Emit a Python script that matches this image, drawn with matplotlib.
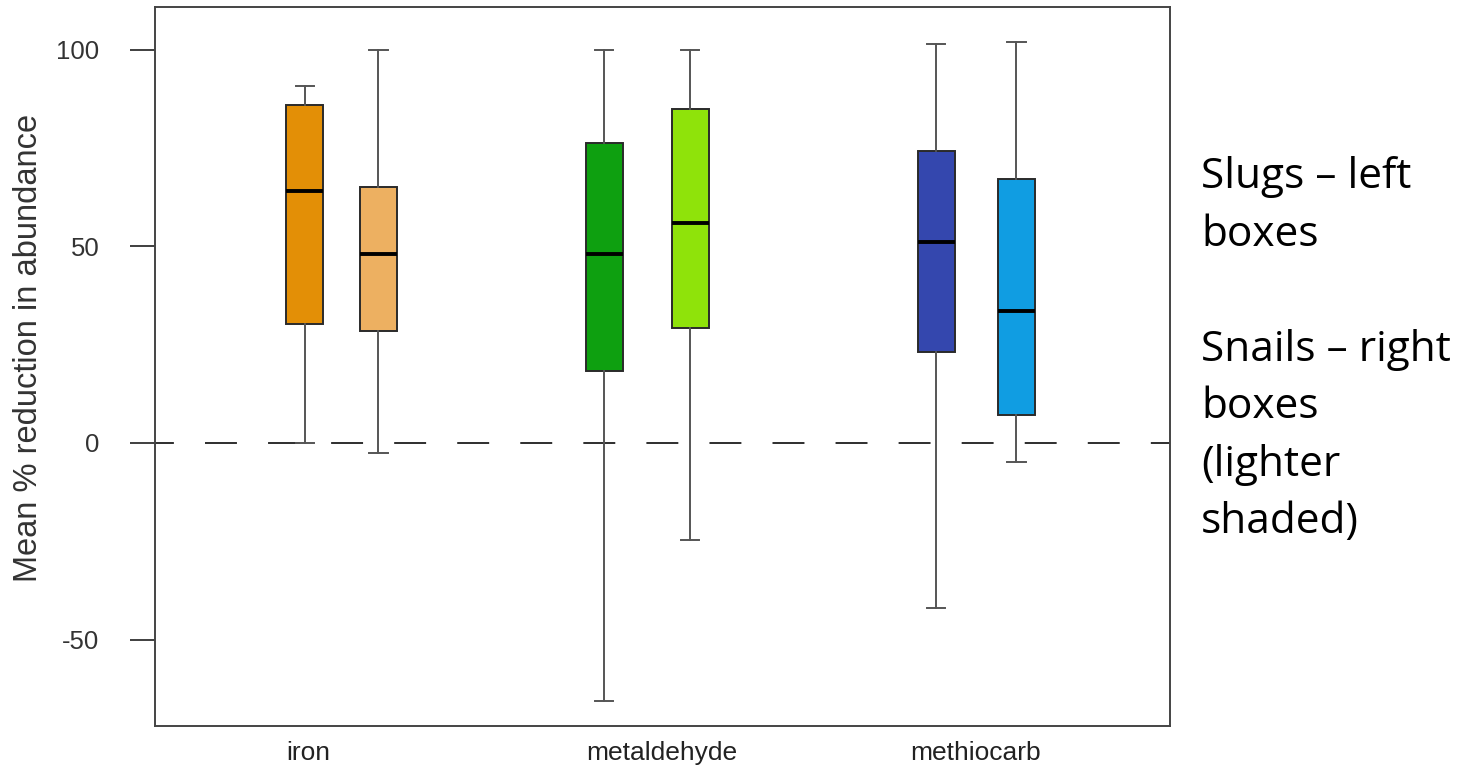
import matplotlib
matplotlib.use("Agg")
import matplotlib.pyplot as plt

# boxes in drawing order: iron slugs, iron snails, metaldehyde slugs,
# metaldehyde snails, methiocarb slugs, methiocarb snails
groups = ["iron", "metaldehyde", "methiocarb"]
whisker_low = [0.0, -2.5, -65.6, -24.7, -41.9, -4.8]
q1 = [30.3, 28.5, 18.3, 29.3, 23.2, 7.1]
median = [64.1, 48.0, 48.0, 56.0, 51.1, 33.6]
q3 = [86.0, 65.1, 76.3, 85.0, 74.3, 67.2]
whisker_high = [90.9, 100.0, 100.0, 100.0, 101.5, 102.0]
box_colors = ["#E38F06", "#EDB061", "#0EA010", "#8FE30A", "#3447AE", "#109DE2"]
yticks = [-50, 0, 50, 100]
note_lines = ["Slugs \u2013 left", "boxes", "", "Snails \u2013 right",
              "boxes", "(lighter", "shaded)"]

# layout
box_pos = [1.0, 2.0, 5.07, 6.24, 9.59, 10.68]
label_pos = [1.04, 5.86, 10.12]
W, H = 1461, 766

plt.rcParams["font.family"] = ["Liberation Sans", "DejaVu Sans"]
plt.rcParams["lines.scale_dashes"] = False

fig = plt.figure(figsize=(W / 100, H / 100), dpi=100)
ax = fig.add_axes([155 / W, 1 - 726 / H, (1170 - 155) / W, (726 - 7) / H])

stats = []
for lo, a, m, b, hi in zip(whisker_low, q1, median, q3, whisker_high):
    stats.append({"whislo": lo, "q1": a, "med": m, "q3": b, "whishi": hi, "fliers": []})

bp = ax.bxp(
    stats,
    positions=box_pos,
    widths=0.503,
    capwidths=0.25,
    patch_artist=True,
    showfliers=False,
    boxprops=dict(edgecolor="#2a2a2a", linewidth=1.4),
    whiskerprops=dict(color="#555555", linewidth=1.4),
    capprops=dict(color="#555555", linewidth=1.4),
    medianprops=dict(color="black", linewidth=2.8, solid_capstyle="butt"),
)
for patch, c in zip(bp["boxes"], box_colors):
    patch.set_facecolor(c)

ax.axhline(0, color="#333333", linewidth=1.44,
           linestyle=(9.4, (23.0, 22.4)), zorder=0.5)

ax.set_xlim(-1.04, 12.77)
ax.set_ylim(-72.0, 110.9)

ax.set_yticks(yticks)
ax.set_yticklabels([str(t) for t in yticks])
ax.tick_params(axis="y", length=18, width=1.44, color="#444444",
               pad=22, labelsize=18.5, labelcolor="#333333")
ax.set_xticks(label_pos)
ax.set_xticklabels(groups)
ax.tick_params(axis="x", length=0, pad=11, labelsize=19, labelcolor="#222222")

for s in ax.spines.values():
    s.set_color("#444444")
    s.set_linewidth(1.4)

fig.text(29 / W, 1 - 348 / H, "Mean % reduction in abundance", rotation=90,
         ha="center", va="center", fontsize=23.5, color="#333333")

baseline = 188
for line in note_lines:
    if line:
        fig.text(1201 / W, 1 - baseline / H, line, ha="left", va="baseline",
                 fontsize=30.5, family=["Open Sans", "DejaVu Sans"], color="black")
    baseline += 57.5

fig.savefig("out.png", dpi=100)
